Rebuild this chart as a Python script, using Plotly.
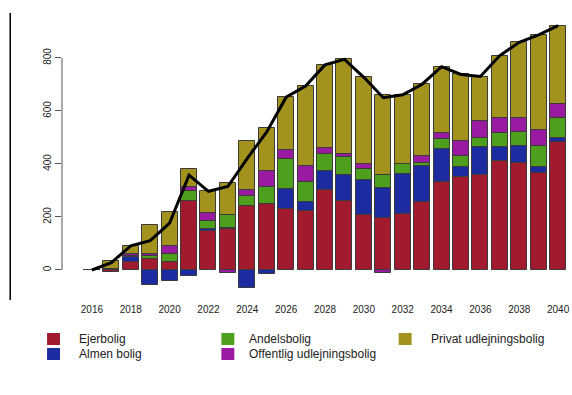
import plotly.graph_objects as go

# Årlig nettotilvækst i boliger fordelt på ejerform
years = list(range(2016, 2041))

ejerbolig = [0, -7, 31, 40, 30, 261, 147, 155, 243, 249, 230, 221, 303, 259, 206,
             195, 210, 258, 333, 351, 358, 412, 403, 367, 482]
almen_bolig = [0, 2, 19, -57, -41, -23, 8, 3, -67, -16, 76, 34, 69, 98, 132,
               113, 152, 134, 124, 39, 105, 53, 65, 21, 15]
andelsbolig = [0, 0, 2, 14, 30, 38, 30, 48, 37, 65, 112, 76, 67, 68, 42,
               49, 37, 13, 36, 40, 36, 51, 54, 81, 75]
offentlig = [0, 2, 9, 8, 32, 15, 31, -12, 22, 60, 36, 63, 20, 13, 21,
             -10, 0, 25, 25, 57, 63, 56, 53, 59, 54]
privat = [0, 31, 30, 106, 126, 67, 81, 121, 186, 163, 198, 300, 315, 357, 326,
          303, 262, 271, 249, 251, 168, 237, 284, 359, 296]

series_names = ["Ejerbolig", "Almen bolig", "Andelsbolig",
                "Offentlig udlejningsbolig", "Privat udlejningsbolig"]
series_values = [ejerbolig, almen_bolig, andelsbolig, offentlig, privat]
series_colors = ["#A21A2D", "#1C2BA0", "#4E9F1E", "#9A1BA2", "#A3921D"]

x_ticks = list(range(2016, 2041, 2))
y_ticks = [0, 200, 400, 600, 800]

total = [sum(v[i] for v in series_values) for i in range(len(years))]

W, H = 572, 395
ML, MR, MT, MB = 62, 2, 22, 105
PW, PH = W - ML - MR, H - MT - MB


def px_x(p):
    return (p - ML) / PW


def px_y(p):
    return (MT + PH - p) / PH


fig = go.Figure()
for name, vals, col in zip(series_names, series_values, series_colors):
    fig.add_trace(go.Bar(
        x=years, y=vals, name=name, showlegend=False,
        marker=dict(color=col, line=dict(color="#3a3a3a", width=1)),
        width=0.82,
    ))

fig.add_trace(go.Scatter(
    x=years, y=total, mode="lines", showlegend=False,
    line=dict(color="black", width=3),
))

font_family = "Liberation Sans, Arial, sans-serif"

shapes = [
    # y-akse fra 0 til 800
    dict(type="line", xref="paper", yref="y", x0=0, x1=0, y0=0, y1=800,
         line=dict(color="#555", width=1)),
    # lodret kantlinje i venstre side
    dict(type="line", xref="paper", yref="paper",
         x0=px_x(10), x1=px_x(10), y0=px_y(300), y1=px_y(13),
         line=dict(color="black", width=1.5)),
]
annotations = []

# Signaturforklaring i tre kolonner: (kolonne-x for firkant, række-y)
legend_pos = [(47, 339), (47, 354), (222, 339), (222, 354), (400, 339)]
legend_text_gap = [30, 30, 26, 26, 30]
for name, col, (sx, sy), gap in zip(series_names, series_colors, legend_pos, legend_text_gap):
    shapes.append(dict(type="rect", xref="paper", yref="paper",
                       x0=px_x(sx), x1=px_x(sx + 13), y0=px_y(sy + 6), y1=px_y(sy - 6),
                       fillcolor=col, line=dict(width=0)))
    annotations.append(dict(xref="paper", yref="paper", x=px_x(sx + gap), y=px_y(sy),
                            xanchor="left", yanchor="middle", showarrow=False,
                            text=name, font=dict(size=12, color="#222")))

fig.update_layout(
    width=W, height=H,
    margin=dict(l=ML, r=MR, t=MT, b=MB),
    paper_bgcolor="white", plot_bgcolor="white",
    barmode="relative", bargap=0,
    font=dict(family=font_family, size=10, color="#222"),
    showlegend=False,
    xaxis=dict(
        range=[2014.46, 2040.51], tickvals=x_ticks,
        showgrid=False, zeroline=False, showline=False,
        ticks="", ticklabelstandoff=12,
        tickfont=dict(size=10, color="#222"),
    ),
    yaxis=dict(
        range=[-75.5, 935.8], tickvals=y_ticks,
        showgrid=False, zeroline=False, showline=False,
        ticks="outside", ticklen=6, tickcolor="#555", tickwidth=1,
        tickangle=-90, tickfont=dict(size=10, color="#222"),
    ),
    shapes=shapes,
    annotations=annotations,
)

fig.write_html("out.html")
